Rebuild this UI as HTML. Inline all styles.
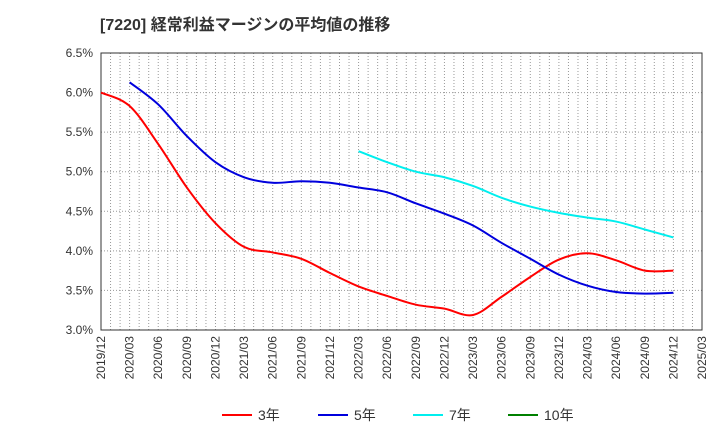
<!DOCTYPE html>
<html><head><meta charset="utf-8"><style>
body{margin:0;background:#fff;font-family:"Liberation Sans","Noto Sans CJK JP",sans-serif;}
svg text{font-family:"Liberation Sans","Noto Sans CJK JP",sans-serif;}
</style></head><body>
<svg id="c" width="720" height="440">
<text x="100" y="30" font-size="16" font-weight="bold" fill="#333">[7220]  経常利益マージンの平均値の推移</text>
<g id="grid"></g><g id="axes"></g><g id="series"></g><g id="legend"></g>
</svg>
<script>
const xTicks=["2019/12","2020/03","2020/06","2020/09","2020/12","2021/03","2021/06","2021/09","2021/12","2022/03","2022/06","2022/09","2022/12","2023/03","2023/06","2023/09","2023/12","2024/03","2024/06","2024/09","2024/12","2025/03"];
const yTicks=[3.0,3.5,4.0,4.5,5.0,5.5,6.0,6.5];
const s3Months=[0,3,6,9,12,15,18,21,24,27,30,33,36,39,42,45,48,51,54,57,60];
const s3=[6.00,5.83,5.35,4.80,4.35,4.05,3.98,3.90,3.72,3.55,3.43,3.32,3.27,3.19,3.42,3.67,3.89,3.97,3.88,3.75,3.75];
const s5Months=[3,6,9,12,15,18,21,24,27,30,33,36,39,42,45,48,51,54,57,60];
const s5=[6.13,5.85,5.45,5.12,4.93,4.86,4.88,4.86,4.80,4.74,4.60,4.47,4.32,4.10,3.90,3.70,3.56,3.48,3.46,3.47];
const s7Months=[27,30,33,36,39,42,45,48,51,54,57,60];
const s7=[5.26,5.12,5.00,4.93,4.82,4.67,4.56,4.48,4.42,4.37,4.27,4.17];
const L=101,R=702,T=53,B=330,NS="http://www.w3.org/2000/svg";
const X=m=>L+m*(R-L)/63, Y=v=>B-(v-3.0)*(B-T)/3.5;
function mk(tag,attrs,parent){const e=document.createElementNS(NS,tag);for(const k in attrs)e.setAttribute(k,attrs[k]);parent.appendChild(e);return e;}
const grid=document.getElementById('grid'),axes=document.getElementById('axes'),ser=document.getElementById('series'),leg=document.getElementById('legend');
for(let m=1;m<63;m++){const l=mk('line',{x1:X(m),x2:X(m),y1:T,y2:B,stroke:'#999','stroke-dasharray':'1,2','stroke-width':1},grid);

}
yTicks.forEach(v=>{if(v>3&&v<6.5){const l=mk('line',{x1:L,x2:R,y1:Y(v),y2:Y(v),stroke:'#999','stroke-dasharray':'1,2'},grid);

}
const t=mk('text',{x:L-8,y:Y(v)+4,'text-anchor':'end','font-size':12,fill:'#333'},axes);t.textContent=v.toFixed(1)+'%';

});
const fr=mk('rect',{x:L,y:T,width:R-L,height:B-T,fill:'none',stroke:'#333'},axes);


xTicks.forEach((s,i)=>{const x=X(i*3);const t=mk('text',{x:x+4,y:B+6,'text-anchor':'end','font-size':12,fill:'#333',transform:`rotate(-90 ${x+4} ${B+6})`},axes);t.textContent=s;

});
function path(ms,vs){const p=ms.map((m,i)=>[X(m),Y(vs[i])]);let d=`M${p[0][0]},${p[0][1]}`;
for(let i=0;i<p.length-1;i++){const p0=p[i-1]||p[i],p1=p[i],p2=p[i+1],p3=p[i+2]||p2;
d+=` C${p1[0]+(p2[0]-p0[0])/6},${p1[1]+(p2[1]-p0[1])/6} ${p2[0]-(p3[0]-p1[0])/6},${p2[1]-(p3[1]-p1[1])/6} ${p2[0]},${p2[1]}`;}return d;}
[[s3Months,s3,'#ff0000','series-3yr'],[s5Months,s5,'#0000dd','series-5yr'],[s7Months,s7,'#00eeee','series-7yr']].forEach(([m,v,c,n])=>{
const e=mk('path',{d:path(m,v),fill:'none',stroke:c,'stroke-width':2},ser);

});
[['3年','#ff0000',222],['5年','#0000dd',318],['7年','#00eeee',413],['10年','#008000',508]].forEach(([t,c,x])=>{
const g=mk('g',{},leg);


mk('line',{x1:x,x2:x+30,y1:415,y2:415,stroke:c,'stroke-width':2},g);
const tx=mk('text',{x:x+36,y:420,'font-size':14,fill:'#333'},g);tx.textContent=t;});
</script>
</body></html>
